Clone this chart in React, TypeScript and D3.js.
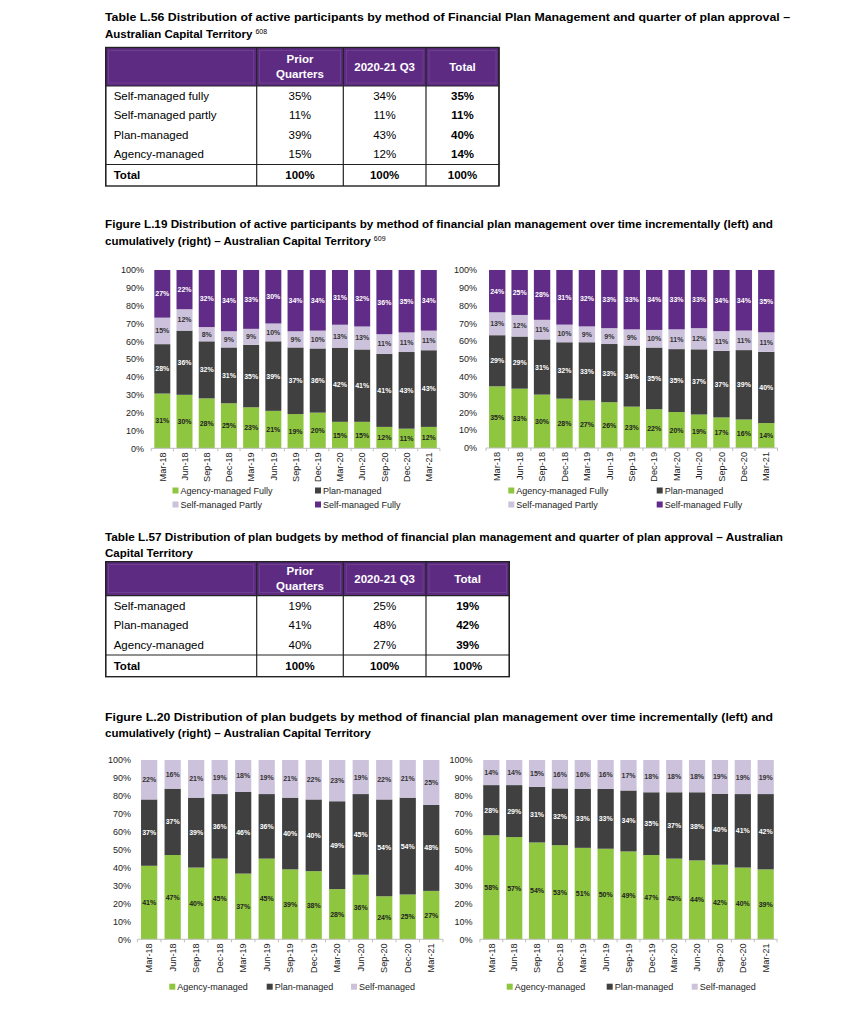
import React, { useEffect, useRef } from 'react';
import * as d3 from 'd3';

// ---- data ----
const quarters = ['Mar-18', 'Jun-18', 'Sep-18', 'Dec-18', 'Mar-19', 'Jun-19', 'Sep-19', 'Dec-19', 'Mar-20', 'Jun-20', 'Sep-20', 'Dec-20', 'Mar-21'];

// Figure L.19 incremental (left)
const partAgencyInc = [31, 30, 28, 25, 23, 21, 19, 20, 15, 15, 12, 11, 12];
const partPlanInc = [28, 36, 32, 31, 35, 39, 37, 36, 42, 41, 41, 43, 43];
const partSelfPartlyInc = [15, 12, 8, 9, 9, 10, 9, 10, 13, 13, 11, 11, 11];
const partSelfFullyInc = [27, 22, 32, 34, 33, 30, 34, 34, 31, 32, 36, 35, 34];

// Figure L.19 cumulative (right)
const partAgencyCum = [35, 33, 30, 28, 27, 26, 23, 22, 20, 19, 17, 16, 14];
const partPlanCum = [29, 29, 31, 32, 33, 33, 34, 35, 35, 37, 37, 39, 40];
const partSelfPartlyCum = [13, 12, 11, 10, 9, 9, 9, 10, 11, 12, 11, 11, 11];
const partSelfFullyCum = [24, 25, 28, 31, 32, 33, 33, 34, 33, 33, 34, 34, 35];

// Figure L.20 incremental (left)
const budAgencyInc = [41, 47, 40, 45, 37, 45, 39, 38, 28, 36, 24, 25, 27];
const budPlanInc = [37, 37, 39, 36, 46, 36, 40, 40, 49, 45, 54, 54, 48];
const budSelfInc = [22, 16, 21, 19, 18, 19, 21, 22, 23, 19, 22, 21, 25];

// Figure L.20 cumulative (right)
const budAgencyCum = [58, 57, 54, 53, 51, 50, 49, 47, 45, 44, 42, 40, 39];
const budPlanCum = [28, 29, 31, 32, 33, 33, 34, 35, 37, 38, 40, 41, 42];
const budSelfCum = [14, 14, 15, 16, 16, 16, 17, 18, 18, 18, 19, 19, 19];

// Tables
const tableCols = ['Prior\nQuarters', '2020-21 Q3', 'Total'];
const t56Rows = ['Self-managed fully', 'Self-managed partly', 'Plan-managed', 'Agency-managed'];
const t56Prior = ['35%', '11%', '39%', '15%'];
const t56Q3 = ['34%', '11%', '43%', '12%'];
const t56Total = ['35%', '11%', '40%', '14%'];
const t57Rows = ['Self-managed', 'Plan-managed', 'Agency-managed'];
const t57Prior = ['19%', '41%', '40%'];
const t57Q3 = ['25%', '48%', '27%'];
const t57Total = ['19%', '42%', '39%'];
const totalRow = ['Total', '100%', '100%', '100%'];

const FONT = 'Liberation Sans, Arial, Helvetica, sans-serif';
const PURPLE = '#5E2B83';
const GREEN = '#8FC640';
const DARK = '#404040';
const LAVENDER = '#CDC2DB';
const VIOLET = '#612C87';

interface Series { name: string; values: number[]; color: string; text: string; }

interface ChartSpec {
  series: Series[];
  range: [number, number];
  pad: number;
  top: number;
  bottom: number;
  labelRight: number;
  legend: { name: string; color: string; x: number; y: number }[];
}

interface TableSpec {
  x: number[]; // column edges
  top: number;
  headBottom: number;
  rowY: number[];
  totalTop: number;
  bottom: number;
  rows: string[];
  cols: string[][];
}

function drawTitle(svg: d3.Selection<SVGSVGElement, unknown, null, undefined>, lines: string[], y: number[], len1: number, sup?: string) {
  const g = svg.append('g').attr('font-family', FONT).attr('font-weight', 'bold').attr('font-size', 11.5).attr('fill', '#000');
  g.append('text').attr('x', 105).attr('y', y[0]).attr('textLength', len1).attr('lengthAdjust', 'spacingAndGlyphs').text(lines[0]);
  const t2 = g.append('text').attr('x', 105).attr('y', y[1]).text(lines[1]);
  if (sup) {
    t2.append('tspan').attr('font-size', 7).attr('font-weight', 'normal').attr('dy', -4).attr('dx', 3).text(sup);
  }
}

function drawTable(svg: d3.Selection<SVGSVGElement, unknown, null, undefined>, s: TableSpec) {
  const g = svg.append('g').attr('font-family', FONT).attr('font-size', 11.5);
  const left = s.x[0];
  const right = s.x[s.x.length - 1];
  g.append('rect').attr('x', left).attr('y', s.top).attr('width', right - left).attr('height', s.headBottom - s.top).attr('fill', PURPLE);
  // faint inner cell frames in the header
  for (let i = 0; i < s.x.length - 1; i++) {
    g.append('rect')
      .attr('x', s.x[i] + 3).attr('y', s.top + 3)
      .attr('width', s.x[i + 1] - s.x[i] - 6).attr('height', s.headBottom - s.top - 6)
      .attr('fill', 'none').attr('stroke', '#8A62A6').attr('stroke-width', 0.6).attr('opacity', 0.6);
  }
  // header text
  tableCols.forEach((c, i) => {
    const cx = (s.x[i + 1] + s.x[i + 2]) / 2;
    const parts = c.split('\n');
    const mid = (s.top + s.headBottom) / 2;
    parts.forEach((p, j) => {
      g.append('text')
        .attr('x', cx)
        .attr('y', mid + 4 + (j - (parts.length - 1) / 2) * 15)
        .attr('text-anchor', 'middle').attr('fill', '#fff').attr('font-weight', 'bold')
        .text(p);
    });
  });
  // body
  s.rows.forEach((r, i) => {
    g.append('text').attr('x', left + 8).attr('y', s.rowY[i] + 4).text(r);
    s.cols.forEach((col, j) => {
      g.append('text')
        .attr('x', (s.x[j + 1] + s.x[j + 2]) / 2)
        .attr('y', s.rowY[i] + 4)
        .attr('text-anchor', 'middle')
        .attr('font-weight', j === 2 ? 'bold' : 'normal')
        .text(col[i]);
    });
  });
  const totalY = (s.totalTop + s.bottom) / 2 + 4;
  totalRow.forEach((t, j) => {
    g.append('text')
      .attr('x', j === 0 ? left + 8 : (s.x[j] + s.x[j + 1]) / 2)
      .attr('y', totalY)
      .attr('text-anchor', j === 0 ? 'start' : 'middle')
      .attr('font-weight', 'bold')
      .text(t);
  });
  // lines
  const ln = (x1: number, y1: number, x2: number, y2: number, w = 1.2) =>
    g.append('line').attr('x1', x1).attr('y1', y1).attr('x2', x2).attr('y2', y2).attr('stroke', '#222').attr('stroke-width', w);
  ln(left, s.headBottom, right, s.headBottom);
  ln(left, s.totalTop, right, s.totalTop);
  s.x.forEach((x) => ln(x, s.top, x, s.bottom));
  g.append('rect').attr('x', left).attr('y', s.top).attr('width', right - left).attr('height', s.bottom - s.top)
    .attr('fill', 'none').attr('stroke', '#222').attr('stroke-width', 1.4);
}

function drawChart(svg: d3.Selection<SVGSVGElement, unknown, null, undefined>, c: ChartSpec) {
  const g = svg.append('g').attr('font-family', FONT);
  const x = d3.scaleBand<string>().domain(quarters).range(c.range).paddingInner(c.pad).paddingOuter(c.pad / 2);
  const y = d3.scaleLinear().domain([0, 1]).range([c.bottom, c.top]);

  const rows = quarters.map((q, i) => {
    const o: Record<string, number | string> = { q };
    c.series.forEach((s) => { o[s.name] = s.values[i]; });
    return o;
  });
  const stack = d3.stack<Record<string, number | string>>()
    .keys(c.series.map((s) => s.name))
    .value((d, k) => d[k] as number)
    .offset(d3.stackOffsetExpand);
  const layers = stack(rows);

  // y tick labels
  const ticks = d3.range(0, 11).map((i) => i / 10);
  g.append('g').selectAll('text').data(ticks).join('text')
    .attr('x', c.labelRight).attr('y', (d) => y(d) + 3.2)
    .attr('text-anchor', 'end').attr('font-size', 9).attr('fill', '#222')
    .text((d) => d3.format('.0%')(d));

  layers.forEach((layer, li) => {
    const s = c.series[li];
    const lg = g.append('g');
    lg.selectAll('rect').data(layer).join('rect')
      .attr('x', (d) => x(d.data.q as string)!)
      .attr('width', x.bandwidth())
      .attr('y', (d) => y(d[1]))
      .attr('height', (d) => y(d[0]) - y(d[1]))
      .attr('fill', s.color);
    lg.selectAll('text').data(layer).join('text')
      .attr('x', (d) => x(d.data.q as string)! + x.bandwidth() / 2)
      .attr('y', (d) => y((d[0] + d[1]) / 2) + 2.5)
      .attr('text-anchor', 'middle').attr('font-size', 7).attr('font-weight', 'bold')
      .attr('fill', s.text)
      .text((d, i) => `${s.values[i]}%`);
  });

  // x axis
  g.append('line').attr('x1', c.range[0]).attr('x2', c.range[1]).attr('y1', c.bottom).attr('y2', c.bottom)
    .attr('stroke', '#BFBFBF').attr('stroke-width', 1);
  const step = x.step();
  g.append('g').selectAll('line').data(d3.range(0, quarters.length + 1)).join('line')
    .attr('x1', (i) => c.range[0] + i * step).attr('x2', (i) => c.range[0] + i * step)
    .attr('y1', c.bottom).attr('y2', c.bottom + 3)
    .attr('stroke', '#BFBFBF');
  g.append('g').selectAll('text').data(quarters).join('text')
    .attr('transform', (d) => `translate(${x(d)! + x.bandwidth() / 2 + 3.2},${c.bottom + 4}) rotate(-90)`)
    .attr('text-anchor', 'end').attr('font-size', 9.2).attr('fill', '#222')
    .text((d) => d);

  // legend
  c.legend.forEach((l) => {
    g.append('rect').attr('x', l.x).attr('y', l.y - 3).attr('width', 6).attr('height', 6).attr('fill', l.color);
    g.append('text').attr('x', l.x + 8).attr('y', l.y + 3.2).attr('font-size', 9).attr('fill', '#222').text(l.name);
  });
}

const App: React.FC = () => {
  const svgRef = useRef<SVGSVGElement>(null);

  useEffect(() => {
    if (!svgRef.current) return;
    const svg = d3.select(svgRef.current);
    svg.selectAll('*').remove();
    svg.append('rect').attr('width', 861).attr('height', 1024).attr('fill', '#fff');

    drawTitle(svg, [
      'Table L.56 Distribution of active participants by method of Financial Plan Management and quarter of plan approval \u2013',
      'Australian Capital Territory',
    ], [21, 38], 685, '608');

    drawTable(svg, {
      x: [105.7, 256.7, 343.3, 426, 499],
      top: 47.5, headBottom: 86, rowY: [95.5, 115, 134.5, 154], totalTop: 164.5, bottom: 186,
      rows: t56Rows, cols: [t56Prior, t56Q3, t56Total],
    });

    drawTitle(svg, [
      'Figure L.19 Distribution of active participants by method of financial plan management over time incrementally (left) and',
      'cumulatively (right) \u2013 Australian Capital Territory',
    ], [228, 245], 668, '609');

    const partSeries = (a: number[], p: number[], sp: number[], sf: number[]): Series[] => [
      { name: 'Agency-managed Fully', values: a, color: GREEN, text: '#222' },
      { name: 'Plan-managed', values: p, color: DARK, text: '#fff' },
      { name: 'Self-managed Partly', values: sp, color: LAVENDER, text: '#333' },
      { name: 'Self-managed Fully', values: sf, color: VIOLET, text: '#fff' },
    ];

    drawChart(svg, {
      series: partSeries(partAgencyInc, partPlanInc, partSelfPartlyInc, partSelfFullyInc),
      range: [151.2, 439.9], pad: 0.28, top: 270, bottom: 448.3, labelRight: 144,
      legend: [
        { name: 'Agency-managed Fully', color: GREEN, x: 172.5, y: 490.5 },
        { name: 'Plan-managed', color: DARK, x: 315, y: 490.5 },
        { name: 'Self-managed Partly', color: LAVENDER, x: 172.5, y: 504.5 },
        { name: 'Self-managed Fully', color: VIOLET, x: 315, y: 504.5 },
      ],
    });
    drawChart(svg, {
      series: partSeries(partAgencyCum, partPlanCum, partSelfPartlyCum, partSelfFullyCum),
      range: [486, 777.5], pad: 0.27, top: 270, bottom: 448, labelRight: 477,
      legend: [
        { name: 'Agency-managed Fully', color: GREEN, x: 508.3, y: 490.5 },
        { name: 'Plan-managed', color: DARK, x: 656.7, y: 490.5 },
        { name: 'Self-managed Partly', color: LAVENDER, x: 508.3, y: 504.5 },
        { name: 'Self-managed Fully', color: VIOLET, x: 656.7, y: 504.5 },
      ],
    });

    drawTitle(svg, [
      'Table L.57 Distribution of plan budgets by method of financial plan management and quarter of plan approval \u2013 Australian',
      'Capital Territory',
    ], [541, 557], 678);

    drawTable(svg, {
      x: [105.7, 256.7, 343.3, 426, 509.3],
      top: 561.7, headBottom: 595.7, rowY: [605.5, 625, 644.5], totalTop: 655, bottom: 676.7,
      rows: t57Rows, cols: [t57Prior, t57Q3, t57Total],
    });

    drawTitle(svg, [
      'Figure L.20 Distribution of plan budgets by method of financial plan management over time incrementally (left) and',
      'cumulatively (right) \u2013 Australian Capital Territory',
    ], [721, 737], 668);

    const budSeries = (a: number[], p: number[], s: number[]): Series[] => [
      { name: 'Agency-managed', values: a, color: GREEN, text: '#222' },
      { name: 'Plan-managed', values: p, color: DARK, text: '#fff' },
      { name: 'Self-managed', values: s, color: LAVENDER, text: '#333' },
    ];

    drawChart(svg, {
      series: budSeries(budAgencyInc, budPlanInc, budSelfInc),
      range: [137.4, 443], pad: 0.31, top: 760, bottom: 939.3, labelRight: 131,
      legend: [
        { name: 'Agency-managed', color: GREEN, x: 169.3, y: 986.7 },
        { name: 'Plan-managed', color: DARK, x: 266.7, y: 986.7 },
        { name: 'Self-managed', color: LAVENDER, x: 351, y: 986.7 },
      ],
    });
    drawChart(svg, {
      series: budSeries(budAgencyCum, budPlanCum, budSelfCum),
      range: [479.9, 777.1], pad: 0.29, top: 760, bottom: 939.3, labelRight: 472.5,
      legend: [
        { name: 'Agency-managed', color: GREEN, x: 506.7, y: 986.7 },
        { name: 'Plan-managed', color: DARK, x: 606.7, y: 986.7 },
        { name: 'Self-managed', color: LAVENDER, x: 691.7, y: 986.7 },
      ],
    });
  }, []);

  return (
    <svg
      ref={svgRef}
      width={861}
      height={1024}
      style={{ position: 'absolute', left: 0, top: 0, display: 'block' }}
    />
  );
};

export default App;
